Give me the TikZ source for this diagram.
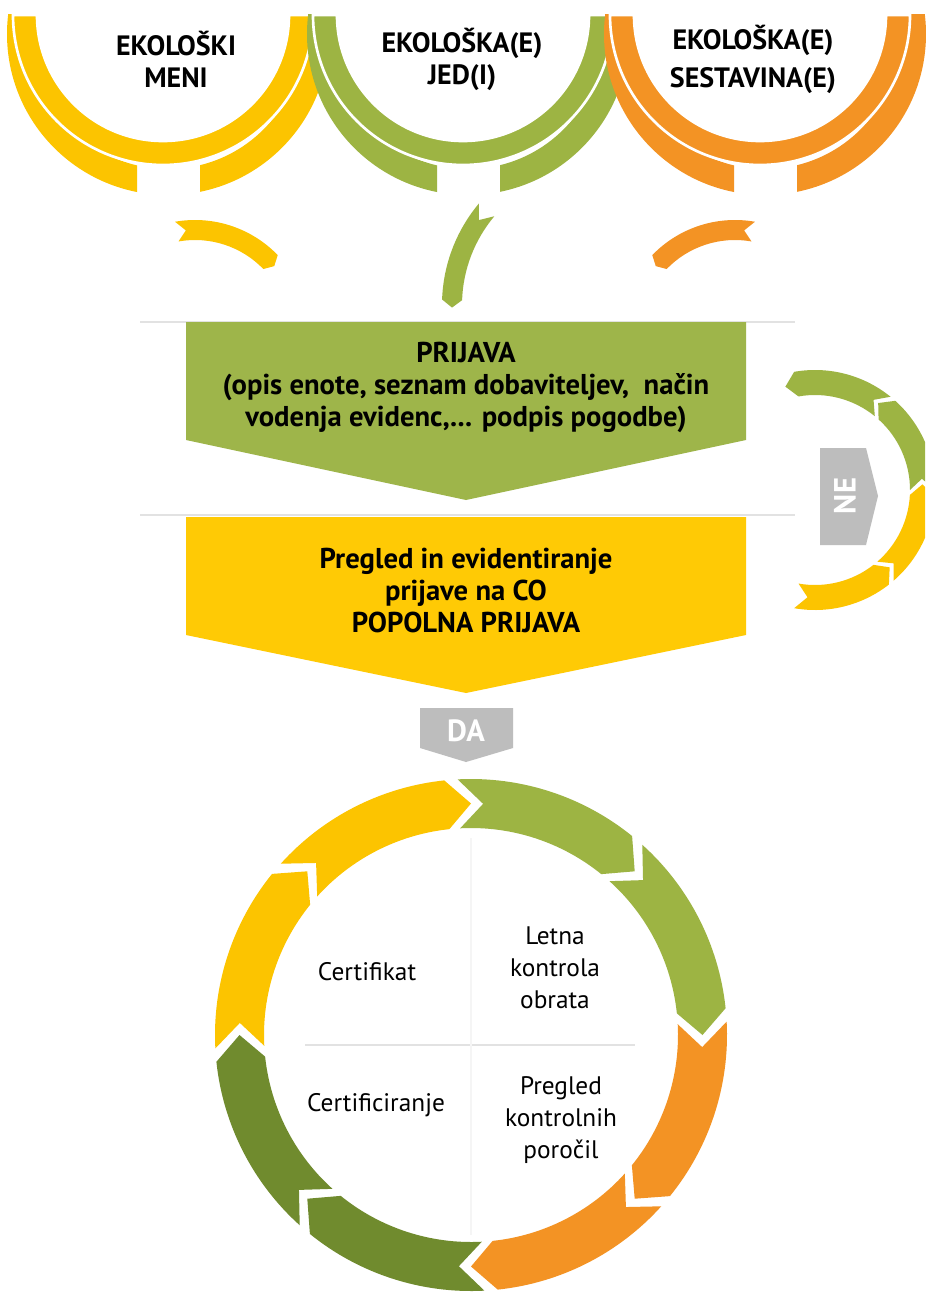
\documentclass[tikz,border=0pt]{standalone}
\usepackage{fontspec}
\setmainfont{PT Sans}
\usetikzlibrary{calc}

\definecolor{ekoyellow}{HTML}{FCC400}
\definecolor{ekogreen}{HTML}{9DB443}
\definecolor{ekoorange}{HTML}{F39324}
\definecolor{ekoolive}{HTML}{708B2E}
\definecolor{boxgreen}{HTML}{9EB54A}
\definecolor{boxyellow}{HTML}{FFCA05}
\definecolor{taggrey}{HTML}{BDBDBD}
\definecolor{rulegrey}{HTML}{E2E2E2}

\tikzset{
  boxtext/.style={font=\bfseries\fontsize{21.5}{24}\selectfont, align=center, text=black},
  headtext/.style={font=\bfseries\fontsize{21}{24}\selectfont, align=center, text=black},
  cycletext/.style={font=\fontsize{19}{24}\selectfont, align=center, text=black},
  tagtext/.style={font=\bfseries\fontsize{23}{24}\selectfont, text=white, inner sep=0pt},
}

% ring arrow: colour, centre, inner r, outer r, start, end, notch, tip
\newcommand{\ringseg}[8]{%
  \fill[#1] ($(#2)+(#5:#4)$) arc[start angle=#5, end angle=#6, radius=#4]
    -- ($(#2)+({#6+(#8)}:{(#3+#4)/2})$)
    -- ($(#2)+(#6:#3)$) arc[start angle=#6, end angle=#5, radius=#3]
    -- ($(#2)+({#5+(#7)}:{(#3+#4)/2})$) -- cycle;}

\begin{document}
\begin{tikzpicture}[x=0.75pt, y=0.75pt]
  \useasboundingbox (0,0) rectangle (925,-1295);
  \fill[white] (0,0) rectangle (925,-1295);

  \foreach \dx/\col in {0/ekoyellow, 300/ekogreen, 597/ekoorange} {
    \begin{scope}[shift={(\dx,0)}]
      \begin{scope}
        \clip (0,-15) rectangle (137,-200);
        \fill[\col, even odd rule] (168,-34) circle[radius=161] (168,-34) circle[radius=135];
      \end{scope}
      \begin{scope}
        \clip (200,-15) rectangle (340,-200);
        \fill[\col, even odd rule] (168,-34) circle[radius=161] (168,-34) circle[radius=135];
      \end{scope}
      \fill[\col, draw=white, line width=2pt]
        (13,-15) arc[start angle=180, end angle=360, radius=150]
        -- (289,-15) arc[start angle=0, end angle=-180, radius=126] -- cycle;
    \end{scope}
  }

  \node[headtext] (meni) at (176,-59) {EKOLOŠKI\\MENI};
  \node[headtext] (jedi) at (462,-59) {EKOLOŠKA(E)\\JED(I)};
  \node[headtext, font=\bfseries\fontsize{21}{28.5}\selectfont] (sestavine) at (753,-59) {EKOLOŠKA(E)\\SESTAVINA(E)};

  \ringseg{ekoyellow}{195,-335}{95}{115}{100}{44}{-5}{-3}
  \ringseg{ekogreen}{600,-305}{138}{158}{140}{178}{5}{3}
  \ringseg{ekoorange}{735,-335}{95}{115}{80}{136}{5}{3}

  \draw[rulegrey, line width=1.5pt] (140,-322) -- (795,-322);
  \draw[rulegrey, line width=1.5pt] (140,-515) -- (795,-515);

  \fill[boxgreen] (186,-322) -- (746,-322) -- (746,-440) -- (466,-500) -- (186,-440) -- cycle;
  \fill[boxyellow] (186,-517) -- (746,-517) -- (746,-635) -- (466,-693) -- (186,-635) -- cycle;

  \node[boxtext] (prijava) at (466,-387)
    {PRIJAVA\\(opis enote, seznam dobaviteljev,\ \ način\\vodenja evidenc,... podpis pogodbe)};
  \node[boxtext] (pregled) at (466,-591)
    {Pregled in evidentiranje\\prijave na CO\\POPOLNA PRIJAVA};

  \begin{scope}
    \clip (0,0) rectangle (925,-1295);
    \coordinate (neloop) at (815,-490);
    \foreach \s/\e/\col in {-100/-52/ekoyellow, -49/-3/ekoyellow, 0/48/ekogreen, 51/100/ekogreen} {
      \ringseg{\col}{neloop}{95}{120}{\s}{\e}{6}{6}
    }
  \end{scope}

  \fill[taggrey] (820,-448) -- (866,-448) -- (878,-496) -- (866,-545) -- (820,-545) -- cycle;
  \node[tagtext, rotate=90] (ne) at (845,-496) {NE};
  \fill[taggrey] (420,-708) -- (513,-708) -- (513,-748) -- (466,-762) -- (420,-748) -- cycle;
  \node[tagtext] (da) at (466,-731) {DA};

  \coordinate (cyc) at (471,-1035);
  \draw[rulegrey, line width=1.2pt] (305,-1045) -- (635,-1045);
  \draw[rulegrey!35, line width=1pt] (471,-838) -- (471,-1235);
  \foreach \s/\col [evaluate=\s as \e using \s-42] in
    {183/ekoyellow, 138/ekoyellow, 93/ekogreen, 48/ekogreen,
     3/ekoorange, -42/ekoorange, -87/ekoolive, -132/ekoolive} {
    \ringseg{\col}{cyc}{207}{256}{\s}{\e}{-6}{-6}
  }

  \node[cycletext] (certifikat) at (367,-972) {Certifikat};
  \node[cycletext] (letna) at (555,-968) {Letna\\kontrola\\obrata};
  \node[cycletext] (certificiranje) at (376,-1105) {Certificiranje};
  \node[cycletext] (porocila) at (561,-1120) {Pregled\\kontrolnih\\poročil};
\end{tikzpicture}
\end{document}
